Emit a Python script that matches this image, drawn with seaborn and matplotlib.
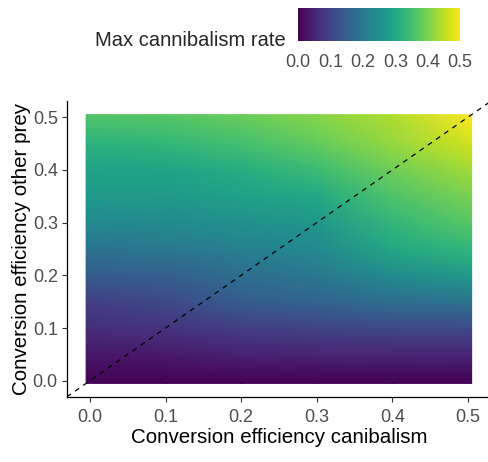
import numpy as np
import matplotlib
matplotlib.use("Agg")
import matplotlib.pyplot as plt
import seaborn as sns

sns.set_theme(style="ticks")
plt.rcParams['font.family'] = ['Liberation Sans', 'DejaVu Sans']

# grid
eff_canib = [0.0, 0.1, 0.2, 0.3, 0.4, 0.5]
eff_other = [0.0, 0.05, 0.1, 0.15, 0.2, 0.25, 0.3, 0.35, 0.4, 0.45, 0.5]

# max cannibalism rate along eff_other, one list per eff_canib value
rate_c00 = [0.0, 0.03, 0.065, 0.09, 0.145, 0.19, 0.235, 0.27, 0.29, 0.32, 0.365]
rate_c01 = [0.0, 0.035, 0.075, 0.11, 0.15, 0.20, 0.24, 0.27, 0.29, 0.33, 0.37]
rate_c02 = [0.0, 0.045, 0.09, 0.145, 0.18, 0.215, 0.25, 0.285, 0.31, 0.35, 0.385]
rate_c03 = [0.0, 0.05, 0.10, 0.16, 0.20, 0.235, 0.265, 0.30, 0.34, 0.38, 0.41]
rate_c04 = [0.0, 0.05, 0.11, 0.18, 0.24, 0.30, 0.33, 0.36, 0.39, 0.42, 0.44]
rate_c05 = [0.0, 0.05, 0.11, 0.19, 0.27, 0.33, 0.37, 0.40, 0.43, 0.465, 0.50]

tick_vals = [0.0, 0.1, 0.2, 0.3, 0.4, 0.5]
tick_labs = ["0.0", "0.1", "0.2", "0.3", "0.4", "0.5"]

Z = np.column_stack([rate_c00, rate_c01, rate_c02, rate_c03, rate_c04, rate_c05])

# raster cells reach half a cell past the outer values
xe = np.array(eff_canib, dtype=float)
ye = np.array(eff_other, dtype=float)
xe[0] -= 0.005; xe[-1] += 0.005
ye[0] -= 0.005; ye[-1] += 0.005

grey = "#4D4D4D"

fig = plt.figure(figsize=(4.88, 4.62), dpi=100)
ax = fig.add_axes([0.137, 0.141, 0.869, 0.640])
mesh = ax.pcolormesh(xe, ye, Z, shading="gouraud", cmap="viridis", vmin=0, vmax=max(rate_c05))
ax.axline((0, 0), slope=1, color="black", lw=0.9, linestyle=(0, (4, 4)))

lims = (-0.0305, 0.5305)
ax.set_xlim(lims)
ax.set_ylim(lims)
sns.despine(ax=ax)
for s in ["left", "bottom"]:
    ax.spines[s].set_color("black")
    ax.spines[s].set_linewidth(0.9)
ax.set_xticks(tick_vals, tick_labs)
ax.set_yticks(tick_vals, tick_labs)
ax.tick_params(colors="#333333", labelcolor=grey, labelsize=13, length=3.5, width=0.8, pad=3)
ax.tick_params(axis="x", pad=5)
ax.set_xlabel("Conversion efficiency canibalism", fontsize=14.8, color="black", labelpad=2)
ax.set_ylabel("Conversion efficiency other prey", fontsize=14.8, color="black", labelpad=1)

# colour bar on top
cax = fig.add_axes([0.611, 0.911, 0.332, 0.071])
cb = fig.colorbar(mesh, cax=cax, orientation="horizontal")
cb.outline.set_visible(False)
cb.set_ticks(tick_vals, labels=tick_labs)
cax.tick_params(direction="in", color="white", labelcolor=grey, labelsize=13,
                length=6, width=1, top=True, bottom=True, labeltop=False, pad=9)
fig.text(0.195, 1 - 40 / 462, "Max cannibalism rate", fontsize=14.5, va="center", ha="left")

fig.savefig("out.png", dpi=100)
